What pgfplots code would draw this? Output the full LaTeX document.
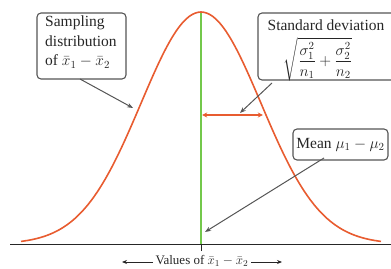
\RequirePackage{fix-cm}
\documentclass[border=0pt]{standalone}
\usepackage{amsmath}
\usepackage{exscale}
\usepackage{fontspec}
\setmainfont{Liberation Serif}
\usepackage{pgfplots}
\pgfplotsset{compat=1.18}
\usetikzlibrary{arrows.meta}
\definecolor{curvec}{RGB}{232,92,48}
\definecolor{meanc}{RGB}{115,200,75}
\definecolor{boxc}{RGB}{85,85,85}
\begin{document}
\begin{tikzpicture}
\path[use as bounding box] (-10pt,-24pt) rectangle (381pt,244pt);
\begin{axis}[at={(0pt,0pt)}, anchor=south west, scale only axis,
  width=381pt, height=244pt,
  xmin=-3.1833, xmax=3.1667, ymin=0, ymax=1.0517,
  axis x line=bottom, axis y line=none,
  axis line style={-, black!85, line width=1pt},
  xtick={0}, xticklabels={}, tick align=outside, major tick length=7pt,
  xtick style={black!85, line width=1pt}, ytick=\empty, clip=false]
\addplot[meanc, line width=1.05pt] coordinates {(0,0) (0,1)};
\addplot[curvec, line width=1.6pt, smooth] coordinates {
(-3.0,0.01111) (-2.9,0.01492) (-2.8,0.01984) (-2.7,0.02612) (-2.6,0.03405)
(-2.5,0.04394) (-2.4,0.05613) (-2.3,0.07100) (-2.2,0.08892) (-2.1,0.11025)
(-2.0,0.13534) (-1.9,0.16447) (-1.8,0.19790) (-1.7,0.23575) (-1.6,0.27804)
(-1.5,0.32465) (-1.4,0.37531) (-1.3,0.42956) (-1.2,0.48675) (-1.1,0.54607)
(-1.0,0.60653) (-0.9,0.66698) (-0.8,0.72615) (-0.7,0.78270) (-0.6,0.83527)
(-0.5,0.88250) (-0.4,0.92312) (-0.3,0.95600) (-0.2,0.98020) (-0.1,0.99501)
(0.0,1.00000)
(0.1,0.99501) (0.2,0.98020) (0.3,0.95600) (0.4,0.92312) (0.5,0.88250)
(0.6,0.83527) (0.7,0.78270) (0.8,0.72615) (0.9,0.66698) (1.0,0.60653)
(1.1,0.54607) (1.2,0.48675) (1.3,0.42956) (1.4,0.37531) (1.5,0.32465)
(1.6,0.27804) (1.7,0.23575) (1.8,0.19790) (1.9,0.16447) (2.0,0.13534)
(2.1,0.11025) (2.2,0.08892) (2.3,0.07100) (2.4,0.05613) (2.5,0.04394)
(2.6,0.03405) (2.7,0.02612) (2.8,0.01984) (2.9,0.01492) (3.0,0.01111)};
\addplot[curvec, line width=1.2pt, {Stealth[length=5pt,width=5pt]}-{Stealth[length=5pt,width=5pt]}] coordinates {(0.02,0.556) (1.03,0.556)};
\end{axis}
\begin{scope}[x=1pt, y=-1pt, shift={(-10pt,244pt)}]
\tikzset{box/.style={draw=boxc, line width=1.1pt, rounded corners=4pt},
  arr/.style={draw=boxc, line width=1pt, -{Stealth[length=6pt,width=4.5pt]}},
  txt/.style={font=\fontsize{15.5}{19.5}\selectfont, inner sep=0pt, text=black!85}}
% box 1
\draw[box] (37,13) rectangle (126,79);
\node[txt, anchor=north west, align=left] at (45,16) {Sampling\\distribution\\of $\bar{x}_1-\bar{x}_2$};
\draw[arr] (80,79) -- (133,108);
% box 2
\draw[box] (258,13) rectangle (400,80);
\node[txt] at (326,25) {Standard deviation};
\node[txt] at (318,59) {$\displaystyle\sqrt{\frac{\sigma_1^2}{n_1}+\frac{\sigma_2^2}{n_2}}$};
\draw[arr] (272,83) -- (240,113);
% box 3
\draw[box] (293,129) rectangle (388,160);
\node[txt] at (340.5,144.5) {Mean $\mu_1-\mu_2$};
\draw[arr] (324,158) -- (205,232);
% bottom label
\node[font=\fontsize{13}{15}\selectfont, inner sep=0pt, text=black!85] at (202,261) {Values of $\bar{x}_1-\bar{x}_2$};
\draw[black!85, line width=0.9pt, -{Stealth[length=5pt,width=4pt]}] (153,262) -- (122,262);
\draw[black!85, line width=0.9pt, -{Stealth[length=5pt,width=4pt]}] (251,262) -- (282,262);
\end{scope}
\end{tikzpicture}
\end{document}
